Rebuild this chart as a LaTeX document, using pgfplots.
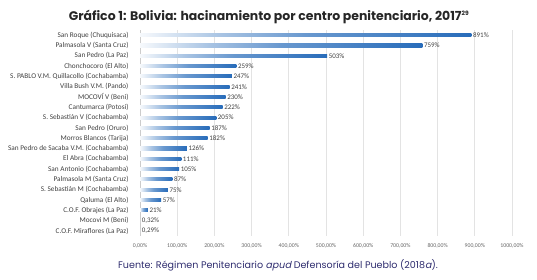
\documentclass[border=0pt]{standalone}
\usepackage{fontspec}
\setmainfont{Carlito}
\newfontfamily\poppins{Poppins}
\newfontfamily\poppinsit{Poppins}[FakeSlant=0.2]
\usepackage{pgfplots}
\pgfplotsset{compat=1.18}
\definecolor{barblue}{RGB}{40,108,186}
\definecolor{labgray}{RGB}{64,64,64}
\definecolor{footblue}{RGB}{46,44,110}
\pgfdeclarehorizontalshading{barfade}{100bp}{color(0bp)=(barblue!4); color(25bp)=(barblue!4); color(37bp)=(barblue!40); color(50bp)=(barblue!70); color(75bp)=(barblue); color(100bp)=(barblue)}
\pgfplotsset{mybar/.style={draw=none, shade, shading=barfade, bar shift=0pt}}
\begin{document}
\begin{tikzpicture}[x=1bp,y=1bp]
\path[use as bounding box] (0,0) rectangle (537,279);
\begin{axis}[
  at={(140bp,43bp)}, anchor=south west,
  scale only axis, width=372bp, height=206bp,
  xbar, bar width=3.1bp, bar shift=0pt,
  xmin=0, xmax=1000,
  ymin=-0.5, ymax=19.5, y dir=reverse,
  ytick={0,...,19},
  yticklabels={{San Roque (Chuquisaca)},{Palmasola V (Santa Cruz)},{San Pedro (La Paz)},{Chonchocoro (El Alto)},{S. PABLO V.M. Quillacollo (Cochabamba)},{Villa Bush V.M. (Pando)},{MOCOVÍ V (Beni)},{Cantumarca (Potosí)},{S. Sebastián V (Cochabamba)},{San Pedro (Oruro)},{Morros Blancos (Tarija)},{San Pedro de Sacaba V.M. (Cochabamba)},{El Abra (Cochabamba)},{San Antonio (Cochabamba)},{Palmasola M (Santa Cruz)},{S. Sebastián M (Cochabamba)},{Qaluma (El Alto)},{C.O.F. Obrajes (La Paz)},{Mocovi M (Beni)},{C.O.F. Miraflores (La Paz)}},
  xtick={0,100,...,1000},
  xticklabels={{0,00\%},{100,00\%},{200,00\%},{300,00\%},{400,00\%},{500,00\%},{600,00\%},{700,00\%},{800,00\%},{900,00\%},{1000,00\%}},
  xticklabel style={font=\fontsize{5.8}{6}\selectfont, text=labgray!80, yshift=-4bp},
  yticklabel style={font=\fontsize{7.3}{8}\selectfont, text=labgray, xshift=-8bp},
  major tick length=0pt,
  xmajorgrids, grid style={gray!22, line width=0.7pt},
  axis x line*=bottom, x axis line style={draw=none},
  axis y line*=left, y axis line style={gray!40, line width=0.7pt},
  point meta=explicit symbolic,
  nodes near coords,
  nodes near coords style={font=\fontsize{7}{8}\selectfont, text=labgray, inner sep=1.5pt, anchor=west},
]
\addplot[mybar] coordinates {(891,0) [891\%]};
\addplot[mybar] coordinates {(759,1) [759\%]};
\addplot[mybar] coordinates {(503,2) [503\%]};
\addplot[mybar] coordinates {(259,3) [259\%]};
\addplot[mybar] coordinates {(247,4) [247\%]};
\addplot[mybar] coordinates {(241,5) [241\%]};
\addplot[mybar] coordinates {(230,6) [230\%]};
\addplot[mybar] coordinates {(222,7) [222\%]};
\addplot[mybar] coordinates {(205,8) [205\%]};
\addplot[mybar] coordinates {(187,9) [187\%]};
\addplot[mybar] coordinates {(182,10) [182\%]};
\addplot[mybar] coordinates {(126,11) [126\%]};
\addplot[mybar] coordinates {(111,12) [111\%]};
\addplot[mybar] coordinates {(105,13) [105\%]};
\addplot[mybar] coordinates {(87,14) [87\%]};
\addplot[mybar] coordinates {(75,15) [75\%]};
\addplot[mybar] coordinates {(57,16) [57\%]};
\addplot[mybar] coordinates {(21,17) [21\%]};
\addplot[mybar] coordinates {(0.32,18) [0,32\%]};
\addplot[mybar] coordinates {(0.29,19) [0,29\%]};
\end{axis}
\node[anchor=base, font=\poppins\bfseries\fontsize{12.5}{14}\selectfont, text=black!85] at (269,259) {Gráfico 1: Bolivia: hacinamiento por centro penitenciario, 2017\textsuperscript{\fontsize{6}{6}\selectfont 29}};
\node[anchor=base, font=\poppins\fontsize{9.6}{11}\selectfont, text=footblue] at (278,11) {Fuente: Régimen Penitenciario {\poppinsit apud} Defensoría del Pueblo (2018{\poppinsit a}).};
\end{tikzpicture}
\end{document}
